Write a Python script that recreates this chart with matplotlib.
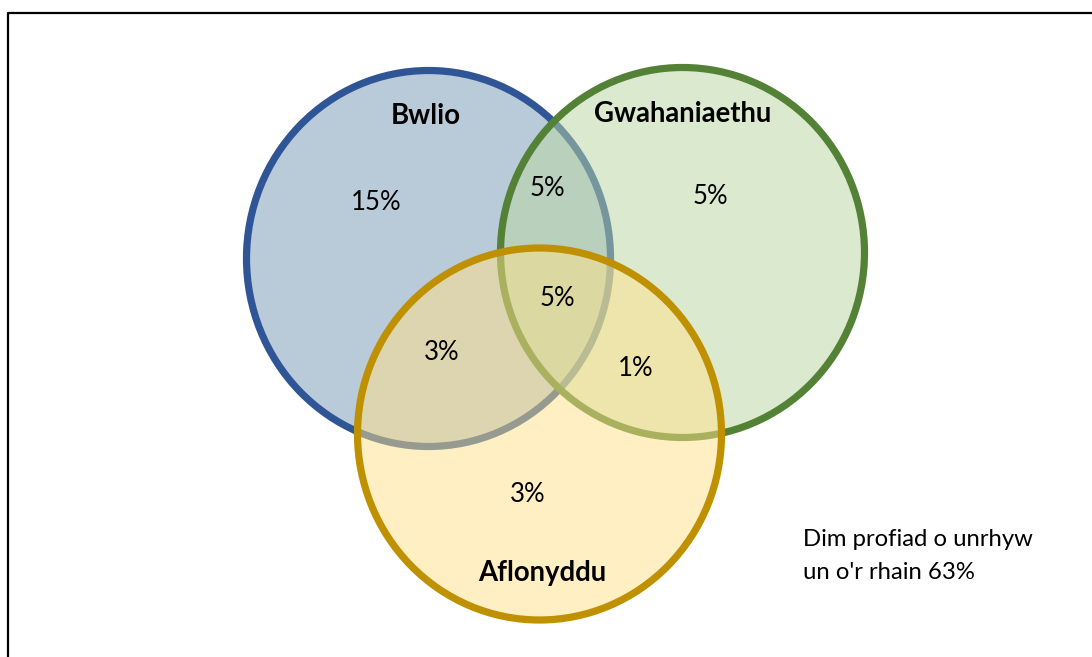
import matplotlib.pyplot as plt
from matplotlib.patches import Ellipse

# sets and the share of respondents in each region
sets = ["Bwlio", "Gwahaniaethu", "Aflonyddu"]
regions = ["B", "G", "BG", "BGA", "BA", "GA", "A"]
shares = [15, 5, 5, 5, 3, 1, 3]
none_share = 63
none_label = "Dim profiad o unrhyw\nun o'r rhain"

# layout (pixel coords, y down)
centres = [(428.5, 258.5), (682.5, 252.5), (539.5, 434)]
radii = [(182, 188), (182, 185), (182, 186)]
edge_cols = ["#2F5597", "#538135", "#BF9000"]
fill_cols = ["#7597B5", "#B9D7A1", "#FFE189"]
name_pos = [(426, 116), (683, 114), (542, 573)]
share_pos = {"B": (376, 202), "G": (710, 196), "BG": (547, 189), "BGA": (557, 299),
             "BA": (442, 353), "GA": (636, 368), "A": (528, 495)}

plt.rcParams['font.family'] = ['Lato', 'DejaVu Sans']

fig = plt.figure(figsize=(10.92, 6.57), dpi=100)
ax = fig.add_axes([0, 0, 1, 1])
ax.set_xlim(0, 1092)
ax.set_ylim(657, 0)
ax.axis('off')

# outer frame (only top and left edges are inside the picture)
ax.plot([8, 8, 1100], [670, 13, 13], color="black", lw=1.6, solid_capstyle="butt")

for (cx, cy), (rx, ry), ec, fc in zip(centres, radii, edge_cols, fill_cols):
    ax.add_patch(Ellipse((cx, cy), 2 * rx, 2 * ry, facecolor=fc, alpha=0.5, edgecolor="none"))
    ax.add_patch(Ellipse((cx, cy), 2 * rx, 2 * ry, facecolor="none", edgecolor=ec, lw=5.2))

for name, (x, y) in zip(sets, name_pos):
    ax.text(x, y, name, ha="center", va="center", fontsize=19.8, fontweight="bold")

for reg, val in zip(regions, shares):
    x, y = share_pos[reg]
    ax.text(x, y, f"{val}%", ha="center", va="center", fontsize=18.5)

ax.text(803, 556, f"{none_label} {none_share}%", ha="left", va="center",
        fontsize=17.2, linespacing=1.7)

fig.savefig("out.png", dpi=100)
